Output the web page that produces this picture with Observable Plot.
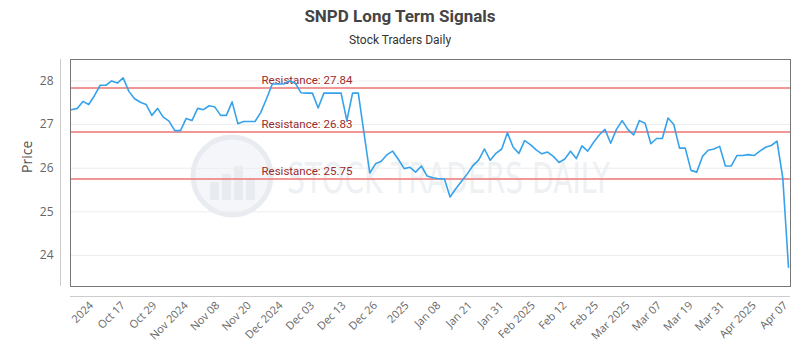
<!DOCTYPE html>
<html><head><meta charset="utf-8">
<script src="https://cdn.jsdelivr.net/npm/d3@7"></script>
<script src="https://cdn.jsdelivr.net/npm/@observablehq/plot@0.6"></script>
<style>
body{margin:0;background:#fff;width:800px;height:350px;overflow:hidden;font-family:Roboto,sans-serif}
#title{height:31px;line-height:32px;text-align:center;font-weight:bold;font-size:17px;color:#444}
#subtitle{height:19px;line-height:18px;text-align:center;font-size:12px;color:#333}
</style></head><body>
<div id="title">SNPD Long Term Signals</div>
<div id="subtitle">Stock Traders Daily</div>
<div id="chart"></div>
<script>
const prices = [
  27.34, 27.37, 27.53, 27.46, 27.66, 27.90, 27.90, 28.00, 27.95, 28.07,
  27.76, 27.59, 27.51, 27.46, 27.21, 27.37, 27.17, 27.08, 26.86, 26.86,
  27.14, 27.09, 27.37, 27.34, 27.43, 27.40, 27.21, 27.21, 27.52, 27.02,
  27.07, 27.07, 27.07, 27.28, 27.59, 27.93, 27.93, 27.93, 28.00, 27.95,
  27.73, 27.72, 27.72, 27.38, 27.72, 27.72, 27.72, 27.72, 27.09, 27.72,
  27.72, 26.80, 25.89, 26.10, 26.16, 26.31, 26.39, 26.20, 25.99, 26.02,
  25.91, 26.05, 25.82, 25.78, 25.76, 25.76, 25.34, 25.53, 25.70, 25.87,
  26.06, 26.19, 26.44, 26.18, 26.34, 26.44, 26.81, 26.48, 26.34, 26.63,
  26.54, 26.42, 26.33, 26.37, 26.27, 26.13, 26.21, 26.39, 26.22, 26.51,
  26.39, 26.59, 26.76, 26.89, 26.57, 26.89, 27.09, 26.89, 26.76, 27.09,
  27.03, 26.56, 26.68, 26.68, 27.15, 27.00, 26.46, 26.46, 25.95, 25.91,
  26.27, 26.41, 26.44, 26.50, 26.05, 26.05, 26.29, 26.29, 26.31, 26.29,
  26.39, 26.48, 26.52, 26.62, 25.78, 23.73
];
const resistanceLevels = [27.84, 26.83, 25.75];
const tickPositions = [3.5, 9, 14.5, 20, 25.5, 31, 36.5, 42, 47.5, 53, 58.5, 64,
  69.5, 75, 80.5, 86, 91.5, 97, 102.5, 108, 113.5, 119, 124.5];
const tickLabels = ["2024", "Oct 17", "Oct 29", "Nov 2024", "Nov 08", "Nov 20",
  "Dec 2024", "Dec 03", "Dec 13", "Dec 26", "2025", "Jan 08", "Jan 21", "Jan 31",
  "Feb 2025", "Feb 12", "Feb 25", "Mar 2025", "Mar 07", "Mar 19", "Mar 31",
  "Apr 2025", "Apr 07"];
const yTicks = [24, 25, 26, 27, 28];
const yDomain = [23.29, 28.49];

const data = prices.map((p, i) => ({i, p}));

const chart = Plot.plot({
  width: 800, height: 300,
  marginTop: 9, marginBottom: 64, marginLeft: 70, marginRight: 10,
  style: {fontFamily: "'Open Sans', sans-serif", fontSize: "11px", color: "#666", background: "white"},
  x: {domain: [0, prices.length - 1], insetLeft: 1, insetRight: 2},
  y: {domain: yDomain},
  marks: [
    Plot.gridY(yTicks, {stroke: "#ededed", strokeOpacity: 1}),
    Plot.ruleY(resistanceLevels, {stroke: "#ee8585", strokeWidth: 2, strokeOpacity: 0.85}),
    Plot.text(resistanceLevels, {y: d => d, text: d => `Resistance: ${d}`, frameAnchor: "left", dx: 191, dy: -8,
      textAnchor: "start", fill: "#9a2b2b", fontSize: 11.5, fontFamily: "Roboto, sans-serif"}),
    Plot.lineY(data, {x: "i", y: "p", stroke: "#36a2eb", strokeWidth: 1.6}),
    Plot.frame({stroke: "#777"}),
    Plot.axisY(yTicks, {tickSize: 0, tickPadding: 17, fontSize: 12, label: null}),
    Plot.text(["Price"], {frameAnchor: "left", dx: -43, rotate: -90, fontSize: 14, fill: "#555"}),
    Plot.axisX(tickPositions, {tickSize: 0, tickPadding: 17, tickRotate: -45,
      tickFormat: d => tickLabels[tickPositions.indexOf(d)], label: null}),
    Plot.ruleY([yDomain[0]], {dy: 10, stroke: "#ccc"}),
    Plot.ruleX([0], {dx: -11, stroke: "#ccc"})
  ]
});
document.getElementById("chart").appendChild(chart);

// faint watermark behind the marks
const svg = d3.select(chart);
const wm = svg.insert("g", ":first-child");
wm.append("circle").attr("cx", 232).attr("cy", 126).attr("r", 39)
  .attr("fill", "#f4f6f9").attr("stroke", "#e8ecf1").attr("stroke-width", 5);
[[-22, 18], [-10, 26], [2, 34], [14, 22]].forEach(([dx, h]) => {
  wm.append("rect").attr("x", 232 + dx).attr("y", 150 - h).attr("width", 9).attr("height", h).attr("fill", "#e8ecf1");
});
wm.append("text").attr("x", 287).attr("y", 143).attr("text-anchor", "start")
  .attr("textLength", 323).attr("lengthAdjust", "spacingAndGlyphs")
  .attr("font-family", "'Liberation Sans Narrow', 'DejaVu Sans', sans-serif").attr("font-size", 42)
  .attr("fill", "#eef1f4").text("STOCK TRADERS DAILY");
</script>
</body></html>
